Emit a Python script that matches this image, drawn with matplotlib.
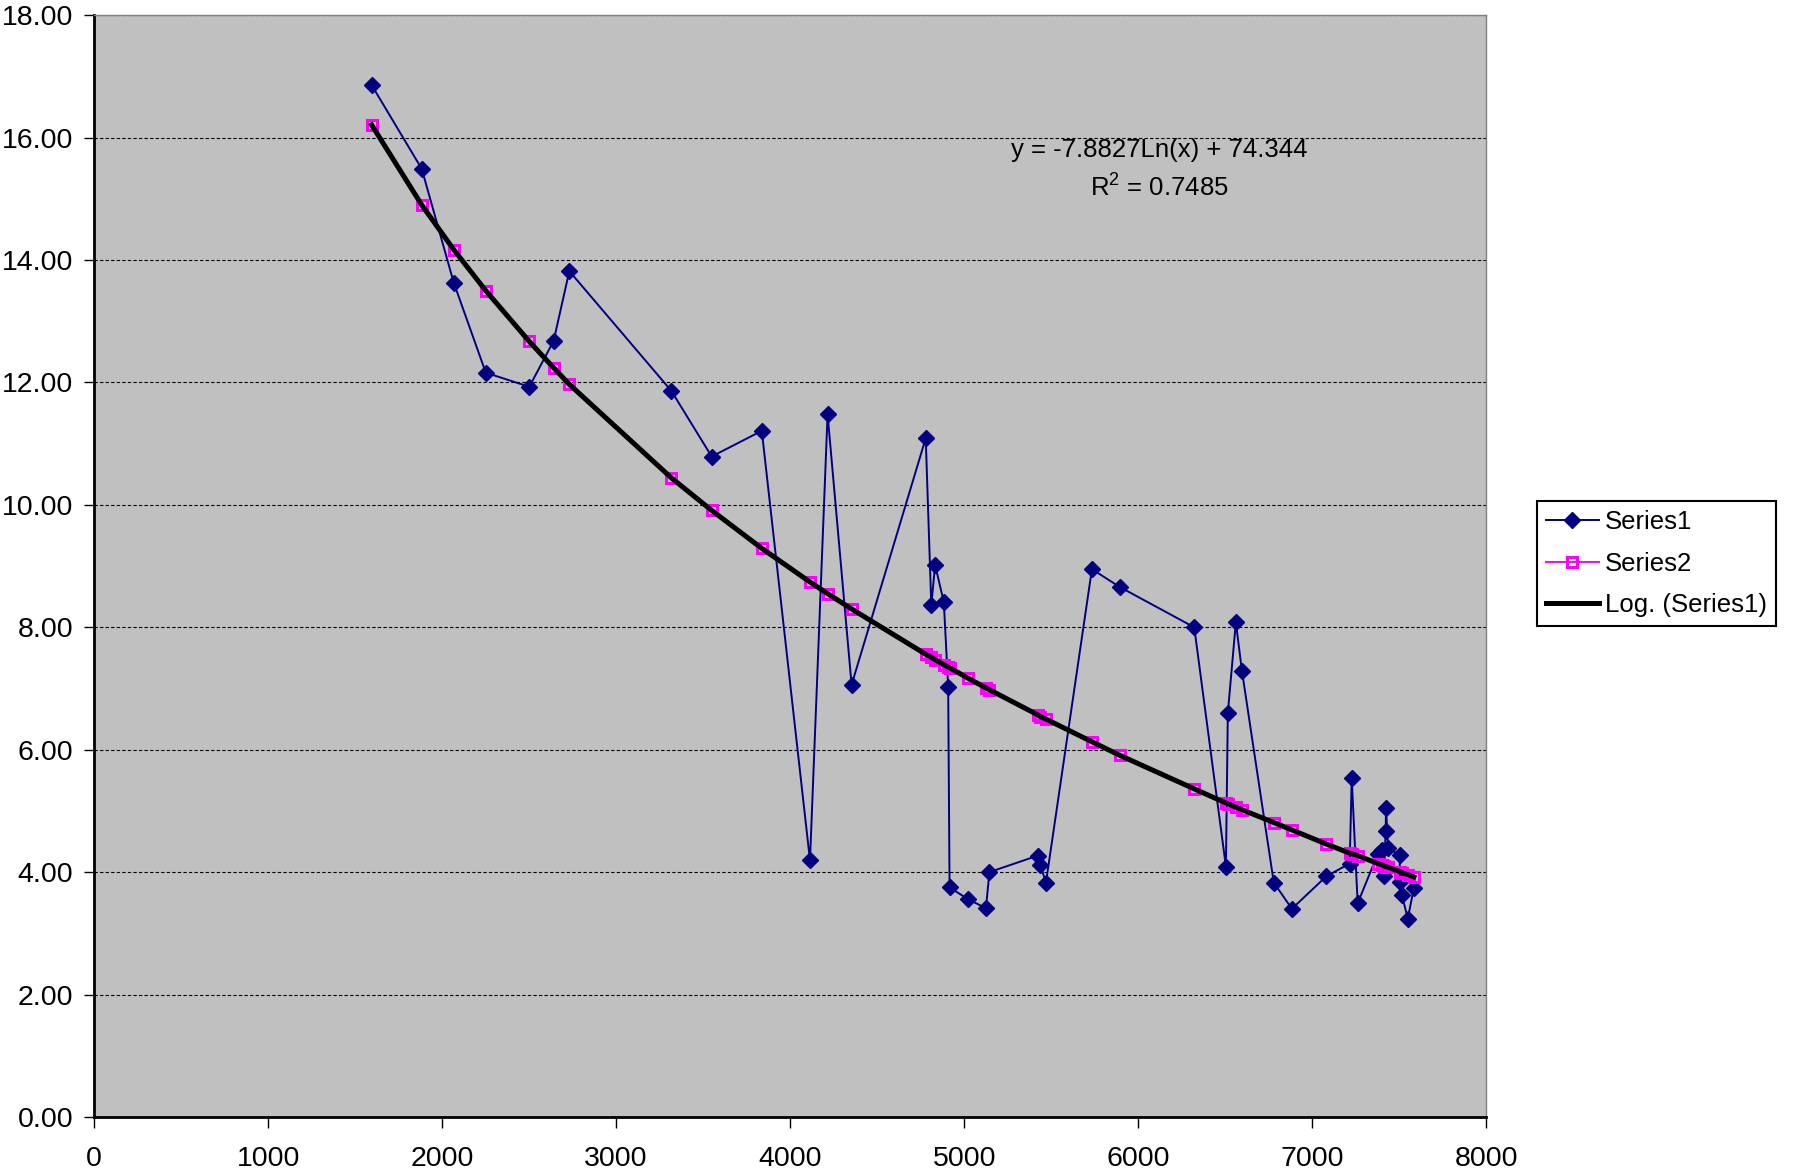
import numpy as np
import matplotlib
matplotlib.use("Agg")
import matplotlib.pyplot as plt
from matplotlib.ticker import FormatStrFormatter, MultipleLocator

plt.rcParams['font.family'] = ['Liberation Sans', 'DejaVu Sans']
plt.rcParams['mathtext.fontset'] = 'custom'
plt.rcParams['mathtext.rm'] = 'Liberation Sans'
plt.rcParams['mathtext.default'] = 'rm'

# data (x sorted, as in the sheet)
x_vals = [1595, 1883, 2067, 2251, 2501, 2641, 2731, 3318, 3549, 3837,
          4114, 4215, 4353, 4779, 4811, 4833, 4883, 4908, 4916, 5021,
          5125, 5145, 5423, 5437, 5470, 5734, 5893, 6322, 6504, 6515,
          6561, 6596, 6779, 6883, 7080, 7215, 7227, 7261, 7377, 7400,
          7412, 7422, 7424, 7436, 7502, 7505, 7515, 7549, 7584]
series1 = [16.86, 15.49, 13.63, 12.16, 11.93, 12.68, 13.82, 11.86, 10.79, 11.21,
           4.19, 11.48, 7.06, 11.09, 8.36, 9.02, 8.41, 7.03, 3.75, 3.56,
           3.41, 4.00, 4.27, 4.12, 3.83, 8.95, 8.66, 8.00, 4.09, 6.60,
           8.08, 7.29, 3.83, 3.40, 3.93, 4.14, 5.53, 3.49, 4.30, 4.36,
           3.93, 4.68, 5.04, 4.39, 4.28, 3.84, 3.63, 3.24, 3.74]
# series2 = fitted values sitting on the log trendline
series2 = [16.21, 14.90, 14.17, 13.50, 12.67, 12.24, 11.97, 10.44, 9.91, 9.29,
           8.74, 8.55, 8.30, 7.56, 7.51, 7.47, 7.39, 7.35, 7.34, 7.17,
           7.01, 6.98, 6.57, 6.54, 6.50, 6.13, 5.91, 5.36, 5.13, 5.12,
           5.06, 5.02, 4.81, 4.69, 4.46, 4.31, 4.30, 4.27, 4.14, 4.12,
           4.10, 4.09, 4.09, 4.08, 4.01, 4.01, 3.99, 3.96, 3.92]
eq_text = "y = -7.8827Ln(x) + 74.344"
r2_text = "R$^2$ = 0.7485"

fig = plt.figure(figsize=(17.95, 11.74), dpi=100)
ax = fig.add_axes([0.0524, 0.0486, 0.7756, 0.9384])
ax.set_facecolor('#C0C0C0')

ax.plot(x_vals, series1, color='#000080', lw=1.4, marker='D', ms=8,
        mfc='#000080', mec='#000080', label='Series1', zorder=3)
ax.plot(x_vals, series2, color='#FF00FF', lw=1.4, marker='s', ms=7.5,
        mfc='none', mec='#FF00FF', mew=2.2, label='Series2', zorder=4)
ax.plot(x_vals, series2, color='black', lw=3.6, label='Log. (Series1)', zorder=5)

ax.set_xlim(0, 8000)
ax.set_ylim(0, 18)
ax.xaxis.set_major_locator(MultipleLocator(1000))
ax.yaxis.set_major_locator(MultipleLocator(2))
ax.yaxis.set_major_formatter(FormatStrFormatter('%.2f'))
ax.grid(axis='y', color='black', lw=0.8, ls=(0, (3, 2)))
ax.set_axisbelow(True)

for s in ['left', 'bottom']:
    ax.spines[s].set_linewidth(2)
    ax.spines[s].set_color('black')
for s in ['top', 'right']:
    ax.spines[s].set_linewidth(1)
    ax.spines[s].set_color('#808080')
ax.tick_params(axis='x', direction='out', length=8, width=1, pad=13, labelsize=20.5)
ax.tick_params(axis='y', direction='out', length=7, width=1, pad=8, labelsize=20.5)

ax.text(6121, 15.80, eq_text, ha='center', va='center', fontsize=18.5)
ax.text(6121, 15.17, r2_text, ha='center', va='center', fontsize=18.5)

leg = ax.legend(loc='upper left', bbox_to_anchor=(0.856, 0.573),
                bbox_transform=fig.transFigure, fontsize=18.5, frameon=True,
                fancybox=False, handlelength=2.1, borderpad=0.35,
                labelspacing=0.68, handletextpad=0.2, borderaxespad=0)
leg.get_frame().set_edgecolor('black')
leg.get_frame().set_linewidth(1.5)
leg.get_frame().set_facecolor('white')
leg.get_frame().set_alpha(1)

fig.savefig('out.png', dpi=100)
